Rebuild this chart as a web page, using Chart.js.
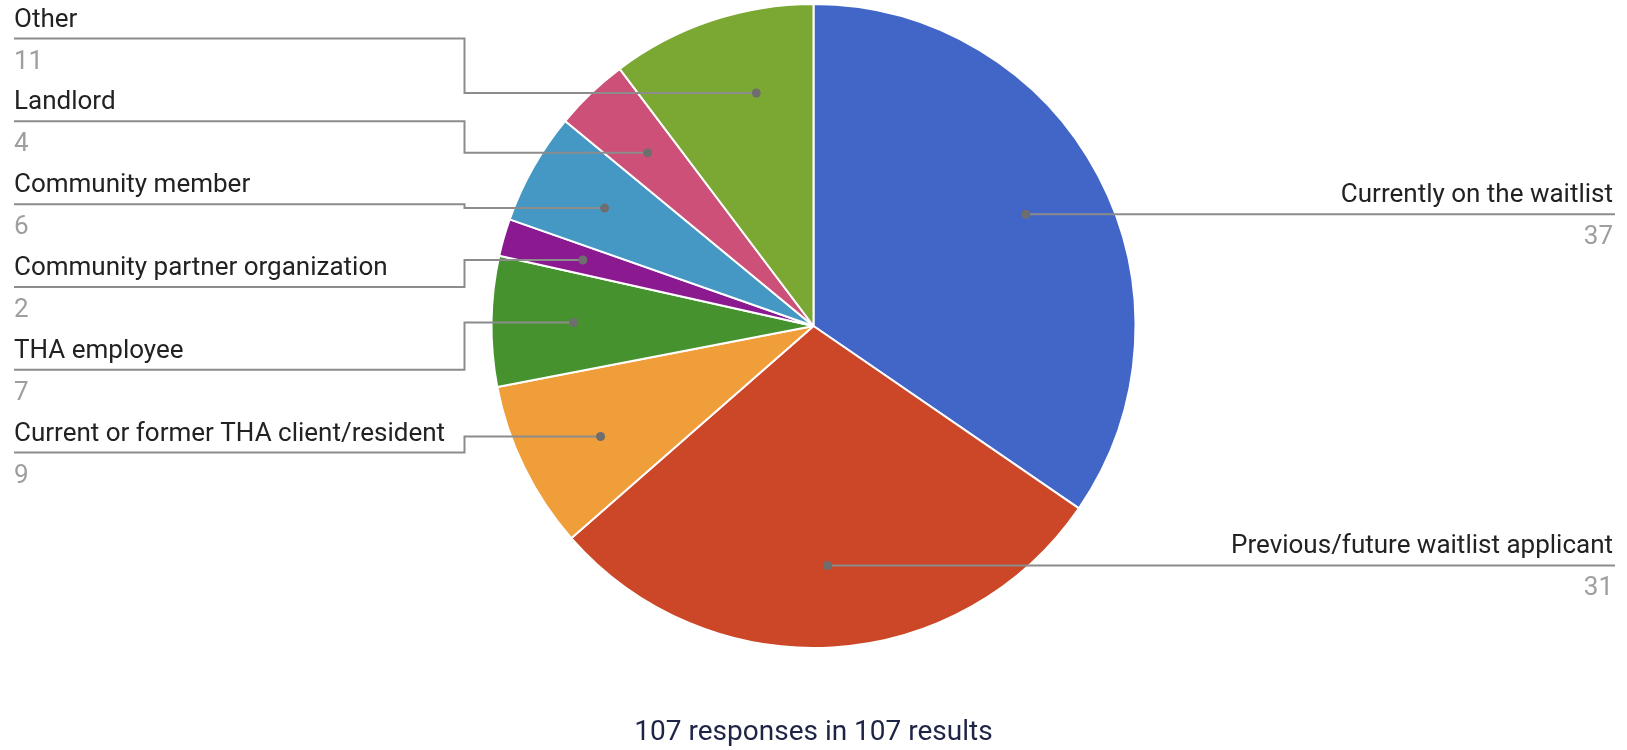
<!DOCTYPE html>
<html>
<head>
<meta charset="utf-8">
<script src="https://cdn.jsdelivr.net/npm/chart.js@4"></script>
<style>
  body { margin: 0; background: #fff; }
  #wrap { width: 1627px; height: 750px; position: relative; }
</style>
</head>
<body>
<div id="wrap"><canvas id="pieChart"></canvas></div>
<script>
// Данные диаграммы
const categories = [
    'Currently on the waitlist',
    'Previous/future waitlist applicant',
    'Current or former THA client/resident',
    'THA employee',
    'Community partner organization',
    'Community member',
    'Landlord',
    'Other'
];
const responses = [37, 31, 9, 7, 2, 6, 4, 11];
const sliceColors = ['#4266c7', '#cc4727', '#f09e39', '#46922f', '#8b1a90', '#4598c4', '#cc5078', '#7aa833'];
const footerText = '107 responses in 107 results';

// Подписи с выносками
const leaderLabels = {
    id: 'leaderLabels',
    afterDraw(chart) {
        const ctx = chart.ctx;
        const meta = chart.getDatasetMeta(0);
        const gap = 82.8;
        const margin = 13.8 * Math.PI / 180; // отступ точки от края сектора
        const left = [], right = [];

        meta.data.forEach((arc, i) => {
            const mid = (arc.startAngle + arc.endAngle) / 2;
            const r = arc.outerRadius * 0.745;
            const item = {
                i: i, arc: arc, r: r,
                cx: arc.x, cy: arc.y,
                R: arc.outerRadius,
                x: arc.x + Math.cos(mid) * r,
                y: arc.y + Math.sin(mid) * r
            };
            item.want = item.y;
            (Math.cos(mid) < 0 ? left : right).push(item);
        });

        // раскладка подписей без наложений
        function spread(list) {
            list.sort((a, b) => a.want - b.want);
            let groups = list.map(it => ({ items: [it] }));
            const place = g => {
                const mean = g.items.reduce((s, it) => s + it.want, 0) / g.items.length;
                g.top = mean - (g.items.length - 1) * gap / 2;
            };
            let merged = true;
            while (merged) {
                merged = false;
                groups.forEach(place);
                for (let k = 0; k < groups.length - 1; k++) {
                    const g = groups[k];
                    if (g.top + g.items.length * gap > groups[k + 1].top) {
                        g.items = g.items.concat(groups[k + 1].items);
                        groups.splice(k + 1, 1);
                        merged = true;
                        break;
                    }
                }
            }
            groups.forEach(g => g.items.forEach((it, j) => { it.ly = g.top + j * gap; }));
        }
        spread(left);
        spread(right);

        // сдвиг точки внутри сектора ближе к подписи
        const nudge = it => {
            const a0 = it.arc.startAngle + margin, a1 = it.arc.endAngle - margin;
            if (a1 <= a0) return;
            let best = null;
            for (let s = 0; s <= 200; s++) {
                const a = a0 + (a1 - a0) * s / 200;
                const y = it.cy + Math.sin(a) * it.r;
                const d = Math.abs(y - it.ly);
                if (best === null || d < best.d) best = { d: d, a: a };
            }
            it.x = it.cx + Math.cos(best.a) * it.r;
            it.y = it.cy + Math.sin(best.a) * it.r;
        };
        left.forEach(nudge);
        right.forEach(nudge);

        ctx.save();
        const draw = (it, isLeft) => {
            const elbow = isLeft ? it.cx - it.R - 27 : it.cx + it.R + 27;
            const edge = isLeft ? 14 : chart.width - 12;
            ctx.strokeStyle = '#8c8c8c';
            ctx.lineWidth = 2;
            ctx.beginPath();
            ctx.moveTo(it.x, it.y);
            ctx.lineTo(elbow, it.y);
            ctx.lineTo(elbow, it.ly);
            ctx.lineTo(edge, it.ly);
            ctx.stroke();

            ctx.fillStyle = '#6e6e6e';
            ctx.beginPath();
            ctx.arc(it.x, it.y, 4.5, 0, Math.PI * 2);
            ctx.fill();

            const tx = isLeft ? 14 : chart.width - 14;
            ctx.textAlign = isLeft ? 'left' : 'right';
            ctx.textBaseline = 'alphabetic';
            ctx.font = '26px Roboto';
            ctx.fillStyle = '#222222';
            ctx.fillText(categories[it.i], tx, it.ly - 12);
            ctx.fillStyle = '#9e9e9e';
            ctx.fillText(String(responses[it.i]), tx, it.ly + 30);
        };
        left.forEach(it => draw(it, true));
        right.forEach(it => draw(it, false));
        ctx.restore();
    }
};

var ctx = document.getElementById('pieChart').getContext('2d');
var pieChart = new Chart(ctx, {
    type: 'pie',
    data: {
        labels: categories,
        datasets: [{
            data: responses,
            backgroundColor: sliceColors,
            borderColor: '#ffffff',
            borderWidth: 2
        }]
    },
    options: {
        responsive: true,
        maintainAspectRatio: false,
        animation: false,
        layout: {
            padding: { top: 3, bottom: 0, left: 0, right: 0 }
        },
        plugins: {
            legend: { display: false },
            tooltip: { enabled: false },
            title: {
                display: true,
                position: 'bottom',
                text: footerText,
                color: '#1d2445',
                font: { family: 'Roboto', size: 28, weight: 'normal' },
                padding: { top: 67.4, bottom: 0 }
            }
        }
    },
    plugins: [leaderLabels]
});
</script>
</body>
</html>
